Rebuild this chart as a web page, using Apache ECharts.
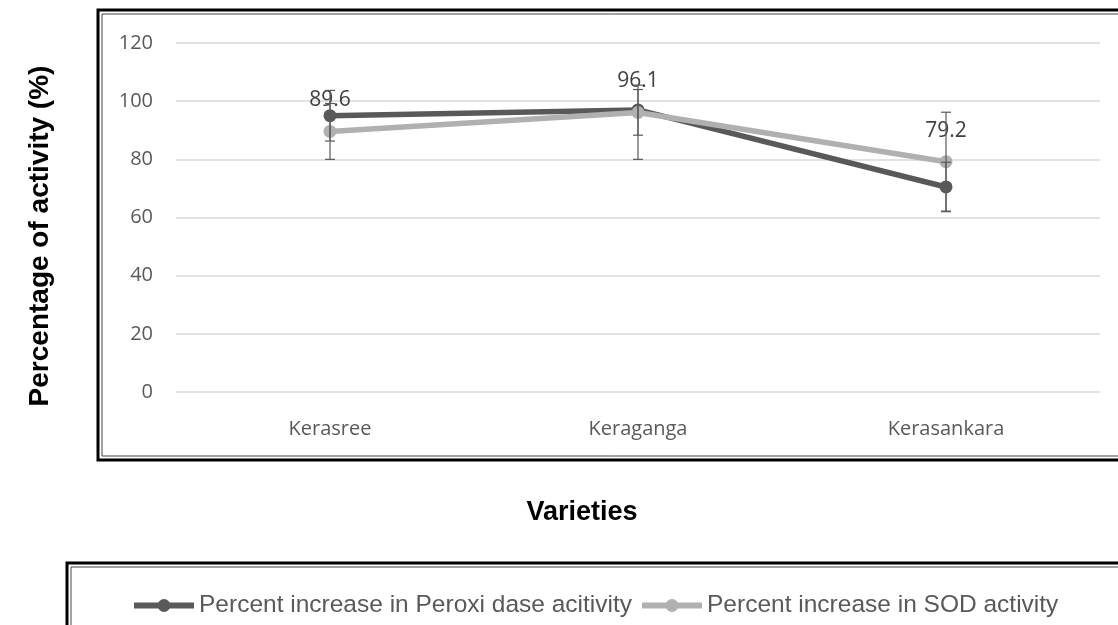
<!DOCTYPE html>
<html>
<head>
<meta charset="utf-8">
<script src="https://cdn.jsdelivr.net/npm/echarts@6/dist/echarts.min.js"></script>
<style>
  html, body { margin: 0; padding: 0; background: #fff; }
  #chart { width: 1118px; height: 625px; }
</style>
</head>
<body>
<div id="chart"></div>
<script>
const varieties = ['Kerasree', 'Keraganga', 'Kerasankara']
const yTicks = [0, 20, 40, 60, 80, 100, 120]

const peroxidase = [95, 97, 70.5]
const peroxidaseLow = [86.3, 88.3, 62]
const peroxidaseHigh = [103.7, 105.5, 79]

const sod = [89.6, 96.1, 79.2]
const sodLow = [80, 80, 62.2]
const sodHigh = [99.2, 104, 96.2]

const seriesNames = ['Percent increase in Peroxi dase acitivity', 'Percent increase in SOD activity']

const chart = echarts.init(document.getElementById('chart'))

// error bar as custom series: [catIndex, low, high]
function errorSeries(low, high) {
  return {
    type: 'custom',
    z: 5,
    silent: true,
    renderItem: (params, api) => {
      const lo = api.coord([api.value(0), api.value(1)])
      const hi = api.coord([api.value(0), api.value(2)])
      const w = 5
      const st = { stroke: '#595959', lineWidth: 1.2 }
      return {
        type: 'group',
        children: [
          { type: 'line', shape: { x1: lo[0], y1: lo[1], x2: hi[0], y2: hi[1] }, style: st },
          { type: 'line', shape: { x1: lo[0] - w, y1: lo[1], x2: lo[0] + w, y2: lo[1] }, style: st },
          { type: 'line', shape: { x1: hi[0] - w, y1: hi[1], x2: hi[0] + w, y2: hi[1] }, style: st },
        ],
      }
    },
    data: varieties.map((_, i) => [i, low[i], high[i]]),
  }
}

function frame(x, y, w, h) {
  return [
    { type: 'rect', shape: { x, y, width: w, height: h }, style: { fill: null, stroke: '#000', lineWidth: 3 } },
    { type: 'rect', shape: { x: x + 4, y: y + 4, width: w - 8, height: h - 8 }, style: { fill: null, stroke: '#444', lineWidth: 1 } },
  ]
}

chart.setOption({
  animation: false,
  title: {
    text: 'Varieties',
    left: 577,
    top: 494,
    textAlign: 'center',
    textStyle: { color: '#000', fontSize: 27, fontWeight: 'bold', fontFamily: 'Liberation Sans' },
  },
  graphic: [
    ...frame(98, 10, 1060, 450),
    ...frame(67, 563, 1100, 120),
    {
      type: 'text',
      x: 40,
      y: 236,
      rotation: Math.PI / 2,
      style: {
        text: 'Percentage of activity (%)',
        fill: '#000',
        font: 'bold 28px "Liberation Sans"',
        align: 'center',
        verticalAlign: 'middle',
      },
    },
  ],
  grid: { left: 176, right: 18, top: 43, bottom: 233 },
  xAxis: {
    type: 'category',
    data: varieties,
    axisLine: { show: false },
    axisTick: { show: false },
    axisLabel: { color: '#595959', fontSize: 20, fontFamily: 'Open Sans', margin: 27 },
  },
  yAxis: {
    type: 'value',
    min: yTicks[0],
    max: yTicks[yTicks.length - 1],
    interval: 20,
    axisLine: { show: false },
    axisTick: { show: false },
    splitLine: { lineStyle: { color: '#d9d9d9', width: 1.5 } },
    axisLabel: { color: '#595959', fontSize: 20, fontFamily: 'Open Sans', margin: 23 },
  },
  legend: {
    left: 131,
    top: 593,
    padding: 0,
    itemWidth: 60,
    itemHeight: 16,
    itemGap: 7,
    lineStyle: { width: 6 },
    textStyle: { color: '#595959', fontSize: 24.5, fontFamily: 'Liberation Sans' },
    data: seriesNames,
  },
  series: [
    {
      name: seriesNames[0],
      type: 'line',
      data: peroxidase,
      symbol: 'circle',
      symbolSize: 13,
      z: 2,
      lineStyle: { color: '#595959', width: 5.5 },
      itemStyle: { color: '#595959' },
    },
    {
      name: seriesNames[1],
      type: 'line',
      data: sod,
      symbol: 'circle',
      symbolSize: 13,
      z: 3,
      lineStyle: { color: '#b0b0b0', width: 5.5 },
      itemStyle: { color: '#b0b0b0' },
      label: {
        show: true,
        position: 'top',
        distance: 14,
        color: '#404040',
        fontSize: 21,
        fontFamily: 'Open Sans',
      },
    },
    errorSeries(peroxidaseLow, peroxidaseHigh),
    errorSeries(sodLow, sodHigh),
  ],
})
</script>
</body>
</html>
